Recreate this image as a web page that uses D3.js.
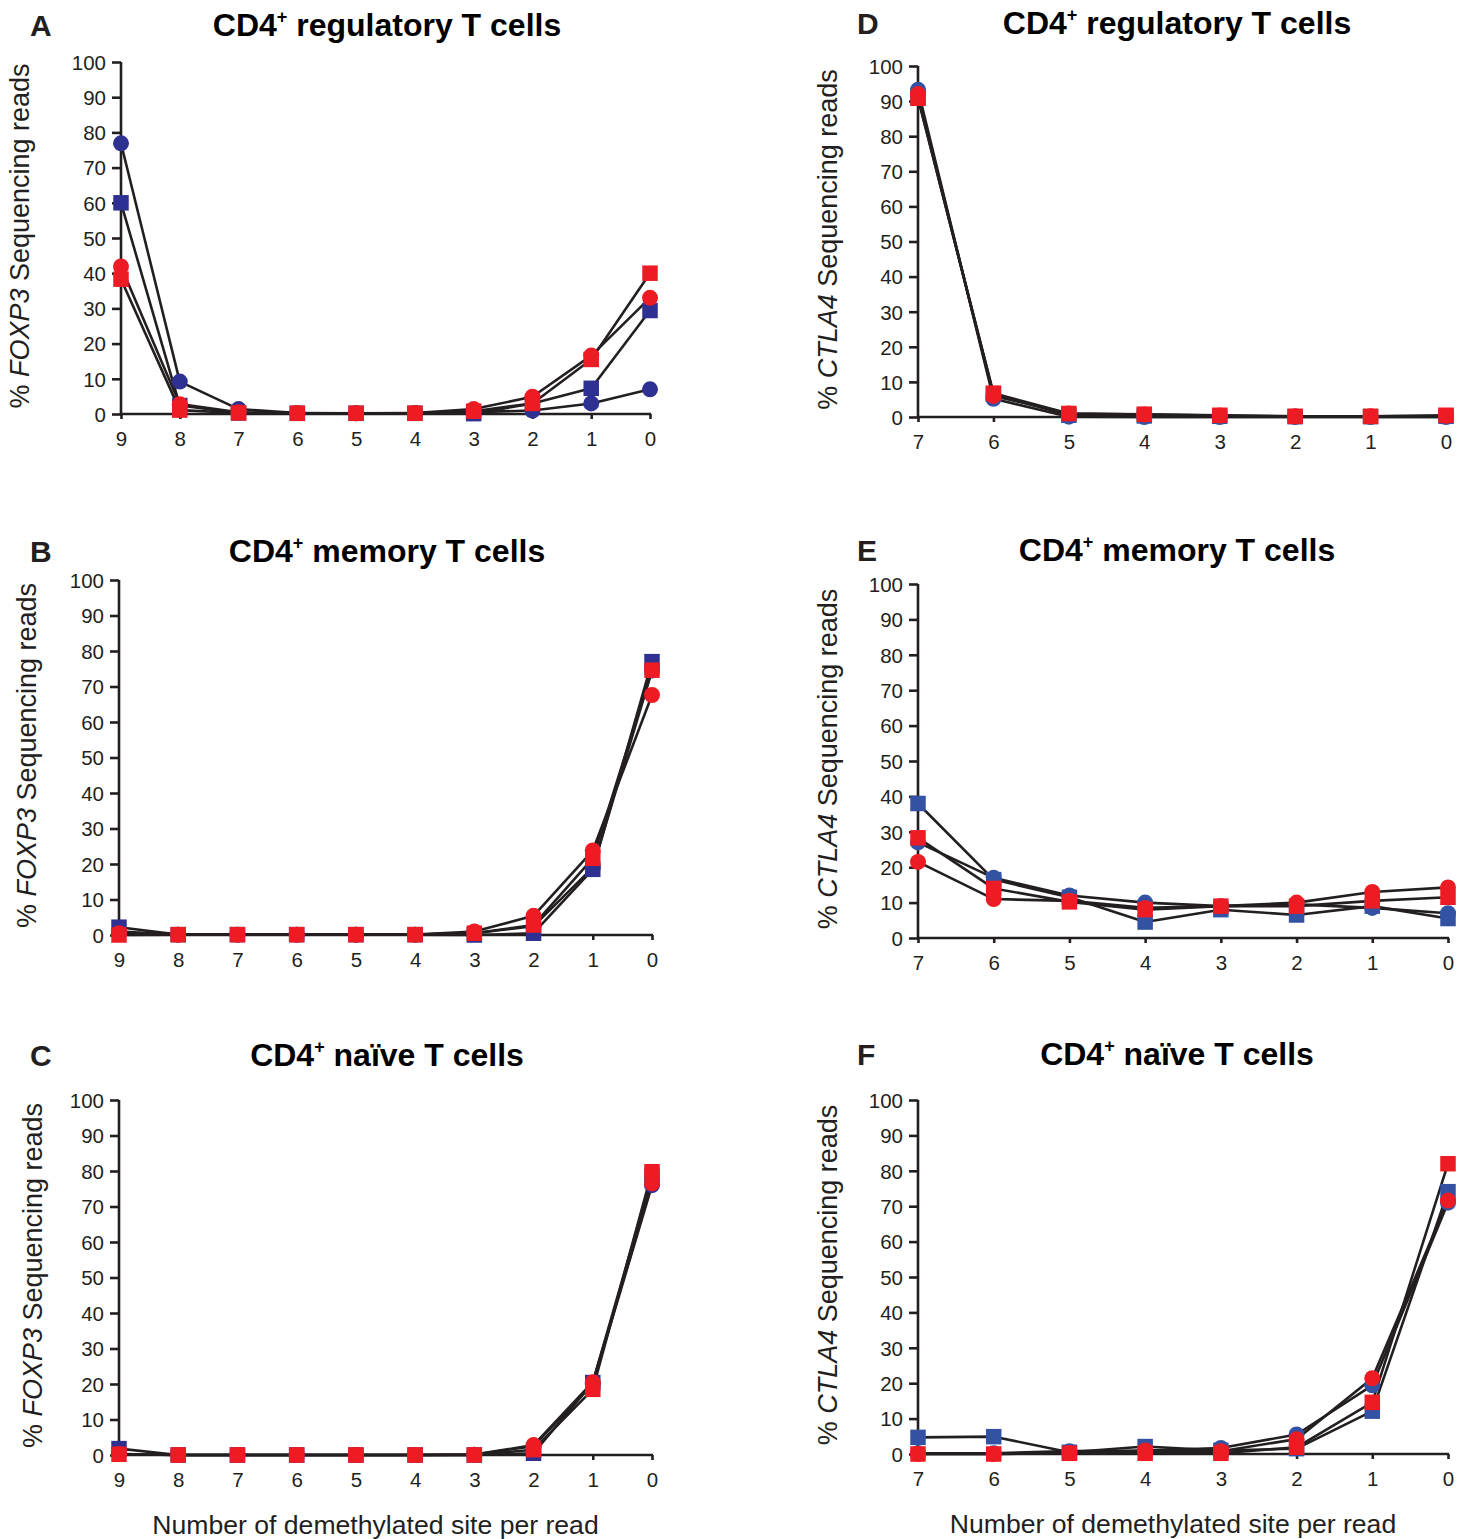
<!DOCTYPE html>
<html>
<head>
<meta charset="utf-8">
<script src="https://cdn.jsdelivr.net/npm/d3@7"></script>
<style>
  body { margin: 0; background: #fff; }
  svg { display: block; font-family: "Liberation Sans", Arial, Helvetica, sans-serif; }
</style>
</head>
<body>
<svg id="fig" width="1472" height="1539"></svg>
<script>
// x categories (number of demethylated sites per read)
const foxp3Sites = [9, 8, 7, 6, 5, 4, 3, 2, 1, 0];
const ctla4Sites = [7, 6, 5, 4, 3, 2, 1, 0];
const yTicks = [0, 10, 20, 30, 40, 50, 60, 70, 80, 90, 100];

// series: blue circle, blue square, red circle, red square
const treg_foxp3_blueCircle = [76.9, 9.2, 1.4, 0.3, 0.2, 0.3, 0.5, 1.0, 3.0, 7.0];
const treg_foxp3_blueSquare = [60.0, 2.4, 0.3, 0.2, 0.2, 0.2, 0.1, 3.0, 7.3, 29.4];
const treg_foxp3_redCircle  = [41.9, 2.8, 0.5, 0.3, 0.2, 0.3, 1.4, 4.9, 16.6, 33.0];
const treg_foxp3_redSquare  = [38.3, 1.1, 0.3, 0.2, 0.2, 0.2, 0.8, 3.0, 15.5, 40.0];

const mem_foxp3_blueCircle = [1.0, 0.1, 0.1, 0.1, 0.1, 0.1, 0.5, 2.5, 19.0, 74.5];
const mem_foxp3_blueSquare = [2.2, 0.1, 0.1, 0.1, 0.1, 0.1, 0.0, 0.5, 18.5, 77.0];
const mem_foxp3_redCircle  = [0.5, 0.1, 0.1, 0.1, 0.1, 0.1, 1.0, 5.4, 23.8, 67.6];
const mem_foxp3_redSquare  = [0.0, 0.1, 0.1, 0.1, 0.1, 0.1, 0.5, 2.8, 21.6, 74.6];

const naive_foxp3_blueCircle = [0.3, 0.0, 0.0, 0.0, 0.0, 0.0, 0.1, 2.5, 20.0, 76.0];
const naive_foxp3_blueSquare = [1.8, 0.0, 0.0, 0.0, 0.0, 0.0, 0.0, 0.5, 20.4, 78.5];
const naive_foxp3_redCircle  = [0.3, 0.0, 0.0, 0.0, 0.0, 0.0, 0.1, 2.8, 20.5, 76.5];
const naive_foxp3_redSquare  = [0.2, 0.0, 0.0, 0.0, 0.0, 0.0, 0.0, 1.5, 18.5, 79.8];

const treg_ctla4_blueCircle = [93.2, 5.2, 0.1, 0.0, 0.0, 0.0, 0.0, 0.0];
const treg_ctla4_blueSquare = [91.0, 6.5, 0.5, 0.3, 0.2, 0.1, 0.1, 0.2];
const treg_ctla4_redCircle  = [92.0, 6.0, 1.0, 0.7, 0.4, 0.2, 0.2, 0.3];
const treg_ctla4_redSquare  = [90.8, 6.8, 1.0, 0.8, 0.5, 0.2, 0.2, 0.5];

const mem_ctla4_blueCircle = [27.0, 17.0, 12.0, 10.0, 9.0, 9.5, 8.5, 7.0];
const mem_ctla4_blueSquare = [38.0, 16.5, 11.5, 4.5, 8.0, 6.5, 9.0, 5.5];
const mem_ctla4_redCircle  = [21.5, 11.0, 10.5, 8.5, 9.0, 10.0, 13.0, 14.3];
const mem_ctla4_redSquare  = [28.3, 14.0, 10.2, 8.0, 9.0, 9.0, 10.5, 11.5];

const naive_ctla4_blueCircle = [0.2, 0.2, 0.8, 1.0, 1.7, 5.5, 19.4, 71.0];
const naive_ctla4_blueSquare = [4.7, 4.9, 0.5, 2.1, 1.0, 1.5, 12.1, 74.1];
const naive_ctla4_redCircle  = [0.0, 0.0, 0.3, 1.0, 0.8, 4.2, 21.4, 71.6];
const naive_ctla4_redSquare  = [0.0, 0.0, 0.2, 0.2, 0.2, 1.9, 14.6, 82.0];

const ink = "#231f20";
const red = "#ed1c24";

// panel layout (pixel frames)
const panels = [
  { letter: "A", title: "regulatory T cells", gene: "FOXP3", sites: foxp3Sites, blue: "#2e3192",
    series: [treg_foxp3_blueCircle, treg_foxp3_blueSquare, treg_foxp3_redCircle, treg_foxp3_redSquare],
    x0: 121, x1: 650, yb: 414, yt: 62, lx: 20, letterX: 30, titleX: 387, titleY: 36, xTitle: false },
  { letter: "B", title: "memory T cells", gene: "FOXP3", sites: foxp3Sites, blue: "#2e3192",
    series: [mem_foxp3_blueCircle, mem_foxp3_blueSquare, mem_foxp3_redCircle, mem_foxp3_redSquare],
    x0: 119, x1: 652, yb: 935, yt: 580, lx: 27, letterX: 30, titleX: 387, titleY: 562, xTitle: false },
  { letter: "C", title: "naïve T cells", gene: "FOXP3", sites: foxp3Sites, blue: "#2e3192",
    series: [naive_foxp3_blueCircle, naive_foxp3_blueSquare, naive_foxp3_redCircle, naive_foxp3_redSquare],
    x0: 119, x1: 652, yb: 1455, yt: 1100, lx: 33, letterX: 30, titleX: 387, titleY: 1066, xTitle: true },
  { letter: "D", title: "regulatory T cells", gene: "CTLA4", sites: ctla4Sites, blue: "#3452a4",
    series: [treg_ctla4_blueCircle, treg_ctla4_blueSquare, treg_ctla4_redCircle, treg_ctla4_redSquare],
    x0: 918, x1: 1446, yb: 417, yt: 66, lx: 828, letterX: 857, titleX: 1177, titleY: 34, xTitle: false },
  { letter: "E", title: "memory T cells", gene: "CTLA4", sites: ctla4Sites, blue: "#3452a4",
    series: [mem_ctla4_blueCircle, mem_ctla4_blueSquare, mem_ctla4_redCircle, mem_ctla4_redSquare],
    x0: 918, x1: 1448, yb: 938, yt: 584, lx: 828, letterX: 857, titleX: 1177, titleY: 561, xTitle: false },
  { letter: "F", title: "naïve T cells", gene: "CTLA4", sites: ctla4Sites, blue: "#3452a4",
    series: [naive_ctla4_blueCircle, naive_ctla4_blueSquare, naive_ctla4_redCircle, naive_ctla4_redSquare],
    x0: 918, x1: 1448, yb: 1454, yt: 1100, lx: 828, letterX: 857, titleX: 1177, titleY: 1065, xTitle: true }
];

const svg = d3.select("#fig");

panels.forEach(p => {
  const g = svg.append("g");
  const x = d3.scalePoint().domain(p.sites).range([p.x0, p.x1]);
  const y = d3.scaleLinear().domain([0, 100]).range([p.yb, p.yt]);

  // axes
  const yAxis = g.append("g")
    .attr("transform", `translate(${p.x0},0)`)
    .call(d3.axisLeft(y).tickValues(yTicks).tickSize(9).tickPadding(6).tickSizeOuter(0));
  const xAxis = g.append("g")
    .attr("transform", `translate(0,${p.yb})`)
    .call(d3.axisBottom(x).tickSize(5).tickPadding(12).tickSizeOuter(0));
  [yAxis, xAxis].forEach(a => {
    a.attr("font-size", null).attr("font-family", null);
    a.selectAll("path, line").attr("stroke", ink).attr("stroke-width", 2.6);
    a.selectAll("text").attr("fill", ink).style("font-size", "20.5px");
  });
  yAxis.selectAll("text").attr("dy", "0.36em");
  xAxis.selectAll("text").attr("dy", "0.72em");
  xAxis.select(".domain").attr("d", `M${p.x0 - 1},0H${p.x1 + 1}`);
  yAxis.select(".domain").attr("d", `M0,${p.yb + 1}V${p.yt}`);

  // lines
  const line = d3.line().x((d, i) => x(p.sites[i])).y(d => y(d));
  g.append("g").selectAll("path")
    .data(p.series)
    .join("path")
    .attr("d", line)
    .attr("fill", "none")
    .attr("stroke", ink)
    .attr("stroke-width", 2.6)
    .attr("stroke-linejoin", "round");

  // markers: blue circle, blue square, red circle, red square
  const styles = [
    { color: p.blue, shape: d3.symbolCircle },
    { color: p.blue, shape: d3.symbolSquare },
    { color: red, shape: d3.symbolCircle },
    { color: red, shape: d3.symbolSquare }
  ];
  p.series.forEach((s, k) => {
    const st = styles[k];
    const size = st.shape === d3.symbolCircle ? Math.PI * 8 * 8 : 15.5 * 15.5;
    g.append("g").selectAll("path")
      .data(s)
      .join("path")
      .attr("transform", (d, i) => `translate(${x(p.sites[i])},${y(d)})`)
      .attr("d", d3.symbol(st.shape, size))
      .attr("fill", st.color);
  });

  // panel letter
  g.append("text")
    .attr("x", p.letterX)
    .attr("y", p.titleY)
    .attr("font-size", 30)
    .attr("font-weight", "bold")
    .attr("fill", ink)
    .text(p.letter);

  // title with superscript
  const t = g.append("text")
    .attr("x", p.titleX)
    .attr("y", p.titleY)
    .attr("text-anchor", "middle")
    .attr("font-size", 32)
    .attr("font-weight", "bold")
    .attr("fill", "#000");
  t.append("tspan").text("CD4");
  t.append("tspan").attr("font-size", 18).attr("dy", -13).text("+");
  t.append("tspan").attr("dy", 13).text(" " + p.title);

  // y-axis title
  const cy = (p.yb + p.yt) / 2 - 2;
  const yl = g.append("text")
    .attr("transform", `translate(${p.lx + 9},${cy}) rotate(-90)`)
    .attr("text-anchor", "middle")
    .attr("font-size", 27)
    .attr("fill", ink);
  yl.append("tspan").text("% ");
  yl.append("tspan").attr("font-style", "italic").text(p.gene);
  yl.append("tspan").text(" Sequencing reads");

  if (p.xTitle) {
    g.append("text")
      .attr("x", (p.x0 + p.x1) / 2 - 10)
      .attr("y", p.yb + 79)
      .attr("text-anchor", "middle")
      .attr("font-size", 26.6)
      .attr("fill", ink)
      .text("Number of demethylated site per read");
  }
});
</script>
</body>
</html>
